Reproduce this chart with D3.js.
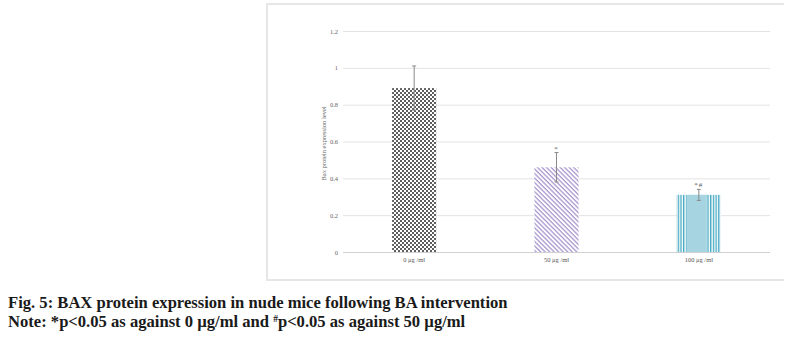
<!doctype html>
<html lang="en">
<head>
  <meta charset="utf-8">
  <title>BAX protein expression</title>
  <style>
    * { margin: 0; padding: 0; box-sizing: border-box; }
    body { background: #fff; width: 797px; height: 340px; overflow: hidden; }
    svg { display: block; }
  </style>
</head>
<body>
  <div class="chart"></div>
  <script src="https://cdn.jsdelivr.net/npm/d3@7/dist/d3.min.js"></script>
  <script>
    // ---------------------------------------------------------------
    //@@ data
    const categories = ['0 μg /ml', '50 μg /ml', '100 μg /ml'];
    const values = [0.89, 0.46, 0.31];
    const errors = [0.12, 0.08, 0.03];
    const marks = ['', '*', '*#'];
    const yTicks = [0, 0.2, 0.4, 0.6, 0.8, 1, 1.2];
    const yTitle = 'Bax protein expression level';
    const captionTitle = 'Fig. 5: BAX protein expression in nude mice following BA intervention';

    // ---------------------------------------------------------------
    //@@ svg configuration
    const svgDim = {w: 797, h: 340};
    const plot = {l: 343, r: 770, t: 31, b: 252};
    const serif = '"Liberation Serif", "Times New Roman", serif';

    const svg = d3.select('.chart').append('svg')
      .attr('width', svgDim.w)
      .attr('height', svgDim.h);

    const defs = svg.append('defs');

    //@@ patterns
    const checker = defs.append('pattern')
      .attr('id', 'pat-checker')
      .attr('patternUnits', 'userSpaceOnUse')
      .attr('width', 4).attr('height', 4);
    checker.append('rect').attr('width', 4).attr('height', 4).attr('fill', '#fff');
    checker.append('rect').attr('width', 2).attr('height', 2).attr('fill', '#5e5e5e');
    checker.append('rect').attr('x', 2).attr('y', 2).attr('width', 2).attr('height', 2).attr('fill', '#5e5e5e');

    const diag = defs.append('pattern')
      .attr('id', 'pat-diag')
      .attr('patternUnits', 'userSpaceOnUse')
      .attr('width', 3.2).attr('height', 3.2)
      .attr('patternTransform', 'rotate(45)');
    diag.append('rect').attr('width', 3.2).attr('height', 3.2).attr('fill', '#fff');
    diag.append('rect').attr('width', 3.2).attr('height', 1.3).attr('fill', '#a898cf');

    const vert = defs.append('pattern')
      .attr('id', 'pat-vert')
      .attr('patternUnits', 'userSpaceOnUse')
      .attr('width', 2.7).attr('height', 4);
    vert.append('rect').attr('width', 2.7).attr('height', 4).attr('fill', '#fff');
    vert.append('rect').attr('width', 1.3).attr('height', 4).attr('fill', '#3fa6c0');

    const fills = ['url(#pat-checker)', 'url(#pat-diag)', 'url(#pat-vert)'];

    //@@ frame
    svg.append('path')
      .attr('d', 'M784,4 H267 V280 H784')
      .attr('stroke', '#e6e6e6').attr('stroke-width', 2).attr('fill', 'none');

    //@@ scales
    const x = d3.scaleBand().domain(categories).range([plot.l, plot.r]).paddingInner(0.69).paddingOuter(0.345);
    const y = d3.scaleLinear().domain([0, 1.2]).range([plot.b, plot.t]);

    //@@ grid
    const grid = d3.axisLeft(y).tickValues(yTicks).tickSize(-(plot.r - plot.l)).tickFormat(d3.format('~g')).tickPadding(5);
    const gGrid = svg.append('g')
      .attr('transform', `translate(${plot.l},0)`)
      .call(grid)
      .attr('font-family', serif)
      .attr('font-size', 6.5);
    gGrid.select('.domain').remove();
    gGrid.selectAll('line').attr('stroke', '#e3e3e3').attr('stroke-width', 1);
    gGrid.selectAll('.tick').filter(d => d === 0).select('line').attr('stroke', '#d0d0d0');
    gGrid.selectAll('text').attr('fill', '#666');

    //@@ bars
    const data = categories.map((c, i) => ({c, v: values[i], e: errors[i], m: marks[i], f: fills[i]}));

    const bars = svg.append('g').selectAll('g').data(data).join('g');

    bars.filter((d, i) => i === 2).append('rect')
      .attr('x', d => x(d.c))
      .attr('y', d => y(d.v))
      .attr('width', x.bandwidth())
      .attr('height', d => y(0) - y(d.v))
      .attr('fill', '#a6d5e1');

    bars.append('rect')
      .attr('x', d => x(d.c))
      .attr('y', d => y(d.v))
      .attr('width', x.bandwidth())
      .attr('height', d => y(0) - y(d.v))
      .attr('fill', d => d.f);

    // solid middle band of the third bar
    bars.filter((d, i) => i === 2).append('rect')
      .attr('x', d => x(d.c) + x.bandwidth() * 0.22)
      .attr('y', d => y(d.v))
      .attr('width', x.bandwidth() * 0.46)
      .attr('height', d => y(0) - y(d.v))
      .attr('fill', '#a6d5e1');

    //@@ error bars
    const cx = d => x(d.c) + x.bandwidth() / 2;
    const err = bars.append('g').attr('stroke', '#8a8a8a').attr('stroke-width', 1);
    err.append('line')
      .attr('x1', cx).attr('x2', cx)
      .attr('y1', d => y(d.v + d.e)).attr('y2', d => y(d.v - d.e));
    err.append('line')
      .attr('x1', d => cx(d) - 2).attr('x2', d => cx(d) + 2)
      .attr('y1', d => y(d.v + d.e)).attr('y2', d => y(d.v + d.e));
    err.append('line')
      .attr('x1', d => cx(d) - 2).attr('x2', d => cx(d) + 2)
      .attr('y1', d => y(d.v - d.e)).attr('y2', d => y(d.v - d.e));

    //@@ significance marks
    bars.append('text')
      .attr('x', cx)
      .attr('y', d => y(d.v + d.e) - 2)
      .attr('text-anchor', 'middle')
      .attr('font-family', serif)
      .attr('font-size', 7)
      .attr('letter-spacing', 1)
      .attr('fill', '#555')
      .text(d => d.m);

    //@@ x labels
    svg.append('g').selectAll('text').data(categories).join('text')
      .attr('x', d => x(d) + x.bandwidth() / 2)
      .attr('y', 262)
      .attr('text-anchor', 'middle')
      .attr('font-family', serif)
      .attr('font-size', 6.5)
      .attr('fill', '#555')
      .text(d => d);

    //@@ y title
    svg.append('text')
      .attr('transform', `translate(326,${(plot.t + plot.b) / 2 + 2}) rotate(-90)`)
      .attr('text-anchor', 'middle')
      .attr('font-family', serif)
      .attr('font-size', 6.5)
      .attr('fill', '#666')
      .text(yTitle);

    //@@ caption
    const cap = svg.append('g')
      .attr('font-family', serif)
      .attr('font-weight', 'bold')
      .attr('font-size', 16.6)
      .attr('fill', '#1a1a1a');
    cap.append('text').attr('x', 8).attr('y', 308).text(captionTitle);
    const note = cap.append('text').attr('x', 8).attr('y', 327);
    note.append('tspan').text('Note: *p<0.05 as against 0 µg/ml and ');
    note.append('tspan').attr('font-size', 9.5).attr('dy', -5).text('#');
    note.append('tspan').attr('dy', 5).text('p<0.05 as against 50 µg/ml');
  </script>
</body>
</html>
